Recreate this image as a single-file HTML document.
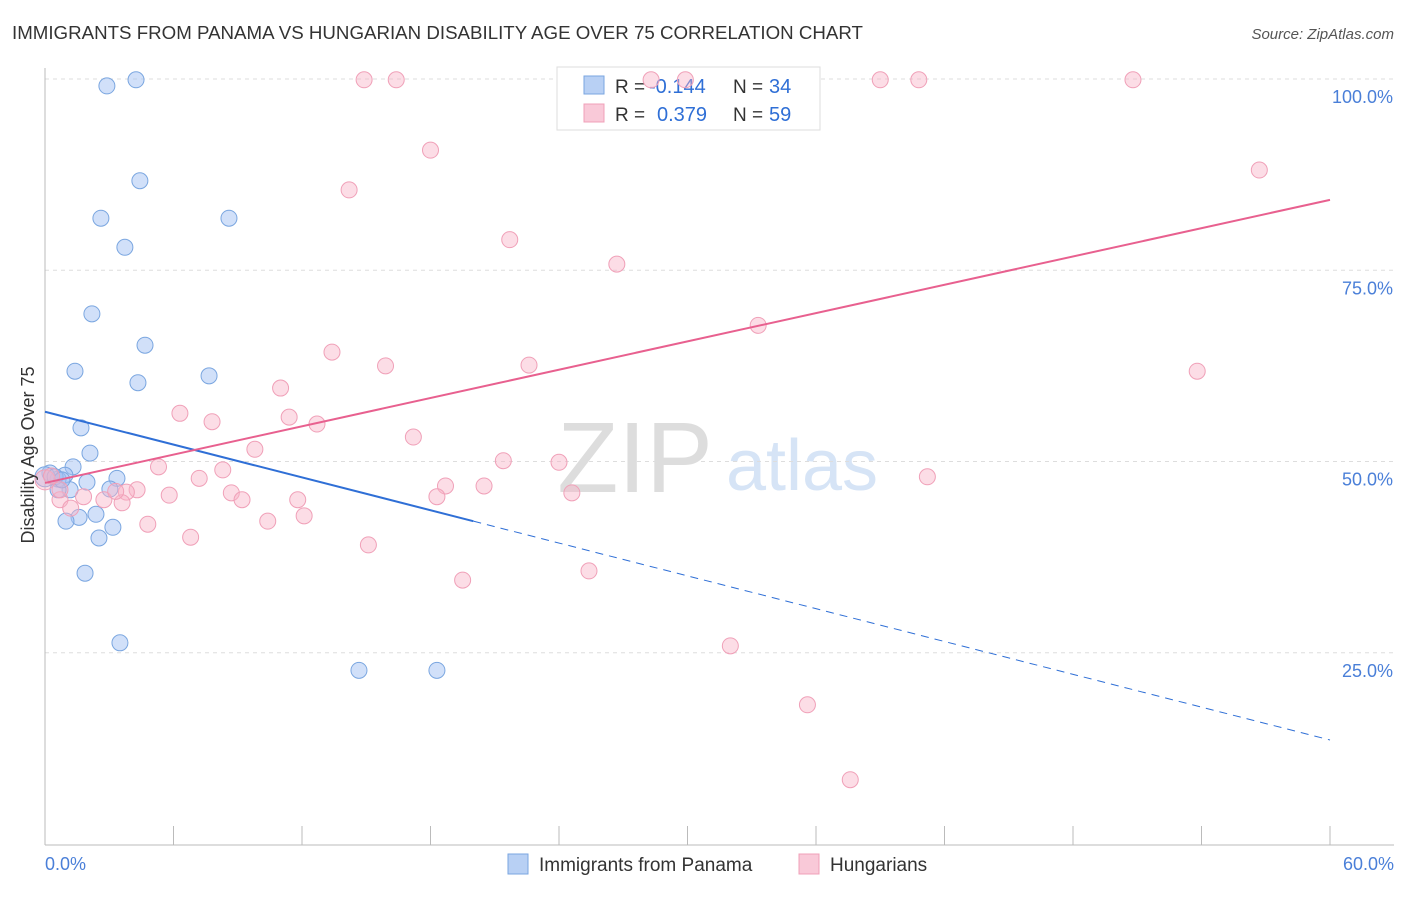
<!DOCTYPE html>
<html><head><meta charset="utf-8"><style>
body{margin:0;background:#fff;font-family:"Liberation Sans",sans-serif;}
svg text{font-family:"Liberation Sans",sans-serif;}
</style></head><body>
<svg id="chart" width="1406" height="892">
<text x="12" y="39" font-size="18" fill="#333" textLength="851" lengthAdjust="spacingAndGlyphs">IMMIGRANTS FROM PANAMA VS HUNGARIAN DISABILITY AGE OVER 75 CORRELATION CHART</text>
<text x="1394" y="39" font-size="15" fill="#555" font-style="italic" text-anchor="end">Source: ZipAtlas.com</text>
<g><text x="635" y="492" font-size="100" fill="#ddd" font-family="Liberation Serif" text-anchor="middle">ZIP</text><text x="802" y="490" font-size="72" fill="#d6e4f6" text-anchor="middle">atlas</text></g>
<g id="grid"></g><g id="axes"></g>
<g>
<rect x="557" y="67" width="263" height="63" fill="#fff" stroke="#ddd"/>
<rect x="584" y="76" width="20" height="18" fill="#b8d0f4" stroke="#7aa6e0"/>
<rect x="584" y="104" width="20" height="18" fill="#f9c9d8" stroke="#f0a0b8"/>
<text x="615" y="93" font-size="19" fill="#333">R =</text>
<text x="649" y="93" font-size="20" fill="#2f6fd6">-0.144</text>
<text x="733" y="93" font-size="19" fill="#333">N =</text>
<text x="769" y="93" font-size="20" fill="#2f6fd6">34</text>
<text x="615" y="121" font-size="19" fill="#333">R =</text>
<text x="657" y="121" font-size="20" fill="#2f6fd6">0.379</text>
<text x="733" y="121" font-size="19" fill="#333">N =</text>
<text x="769" y="121" font-size="20" fill="#2f6fd6">59</text>
</g>
<g id="marks"></g>
<text transform="translate(34,455) rotate(-90)" font-size="18" fill="#333" text-anchor="middle">Disability Age Over 75</text>
<g>
<rect x="508" y="854" width="20" height="20" fill="#b8d0f4" stroke="#7aa6e0"/>
<text x="539" y="871" font-size="19" fill="#333">Immigrants from Panama</text>
<rect x="799" y="854" width="20" height="20" fill="#f9c9d8" stroke="#f0a0b8"/>
<text x="830" y="871" font-size="19" fill="#333">Hungarians</text>
</g>
</svg>
<script>
const blueX=[2.89,4.25,4.43,2.61,8.59,3.73,2.19,4.67,1.40,4.34,7.66,1.68,2.10,1.31,0.23,0.93,0.61,1.96,3.36,1.17,0.61,3.03,2.38,1.59,0.98,3.17,2.52,1.87,3.50,14.66,18.30,0,0.47,0.79];
const blueY=[99.1,99.9,86.7,81.8,81.8,78.0,69.3,65.2,61.8,60.3,61.2,54.4,51.1,49.3,48.5,48.2,47.7,47.3,47.8,46.3,46.3,46.4,43.1,42.7,42.2,41.4,40.0,35.4,26.3,22.7,22.7,48.0,48.0,47.6];
const pinkX=[14.9,16.4,28.3,29.9,39.0,40.8,50.8,18.0,14.2,21.7,56.7,26.7,33.3,13.4,15.9,22.6,53.8,11.0,6.3,11.4,7.8,12.7,17.2,9.8,5.3,21.4,24.0,8.3,7.2,41.2,18.7,20.5,4.3,3.8,5.8,8.7,9.2,11.8,18.3,24.6,2.75,3.6,1.8,0.7,1.2,4.8,10.4,12.1,6.8,15.1,19.5,25.4,32.0,35.6,37.6,0,0.3,3.3,0.7];
const pinkY=[99.9,99.9,99.9,99.9,99.9,99.9,99.9,90.7,85.5,79.0,88.1,75.8,67.8,64.3,62.5,62.6,61.8,59.6,56.3,55.8,55.2,54.9,53.2,51.6,49.3,50.1,49.9,48.9,47.8,48.0,46.8,46.8,46.3,46.0,45.6,45.9,45.0,45.0,45.4,45.9,45.0,44.6,45.4,45.0,43.9,41.8,42.2,42.9,40.1,39.1,34.5,35.7,25.9,18.2,8.4,47.6,48.1,46.1,46.3];
const blueTrendX=[0,20,60];const blueTrendY=[56.5,42.2,13.6];
const pinkTrendX=[0,60];const pinkTrendY=[47.2,84.2];
const yTicks=[25,50,75,100];const yTickLabels=["25.0%","50.0%","75.0%","100.0%"];
const xTicks=[0,6,12,18,24,30,36,42,48,54,60];
const NS="http://www.w3.org/2000/svg";
const X=v=>45+v*(1285/60), Y=v=>844-v*7.65;
function mk(t,a,p){const e=document.createElementNS(NS,t);for(const k in a)e.setAttribute(k,a[k]);p.appendChild(e);return e;}
const grid=document.getElementById('grid'),axes=document.getElementById('axes'),marks=document.getElementById('marks');
yTicks.forEach((v,i)=>{
 const l=mk('line',{x1:45,x2:1394,y1:Y(v),y2:Y(v),stroke:'#ddd','stroke-dasharray':'4,4'},grid);
 
 
 const t=mk('text',{x:1393,y:Y(v)+24,'font-size':18,fill:'#4a7fd8','text-anchor':'end'},axes);t.textContent=yTickLabels[i];
 
 
});
const ax=mk('line',{x1:45,x2:1394,y1:845,y2:845,stroke:'#bbb'},axes);


const ay=mk('line',{x1:45,x2:45,y1:68,y2:845,stroke:'#bbb'},axes);


xTicks.forEach(v=>{const l=mk('line',{x1:X(v),x2:X(v),y1:826,y2:845,stroke:'#bbb'},axes);
 
 });
[[0,"0.0%",'start',45],[60,"60.0%",'end',1394]].forEach(d=>{const t=mk('text',{x:d[3],y:870,'font-size':18,fill:'#4a7fd8','text-anchor':d[2]},axes);t.textContent=d[1];
 
 });
blueX.forEach((v,i)=>{const c=mk('circle',{cx:X(v),cy:Y(blueY[i]),r:i==31?10:8,fill:'rgba(164,194,244,0.5)',stroke:'#7aa6e0','stroke-width':1},marks);
 
 });
pinkX.forEach((v,i)=>{const c=mk('circle',{cx:X(v),cy:Y(pinkY[i]),r:i==55?10:8,fill:'rgba(248,180,200,0.45)',stroke:'#f0a0b8','stroke-width':1},marks);
 
 });
const b1=mk('line',{x1:X(blueTrendX[0]),y1:Y(blueTrendY[0]),x2:X(blueTrendX[1]),y2:Y(blueTrendY[1]),stroke:'#2f6fd6','stroke-width':2},marks);


const b2=mk('line',{x1:X(blueTrendX[1]),y1:Y(blueTrendY[1]),x2:X(blueTrendX[2]),y2:Y(blueTrendY[2]),stroke:'#2f6fd6','stroke-width':1,'stroke-dasharray':'8,6'},marks);


const p1=mk('line',{x1:X(pinkTrendX[0]),y1:Y(pinkTrendY[0]),x2:X(pinkTrendX[1]),y2:Y(pinkTrendY[1]),stroke:'#e8608f','stroke-width':2},marks);


</script>
</body></html>
